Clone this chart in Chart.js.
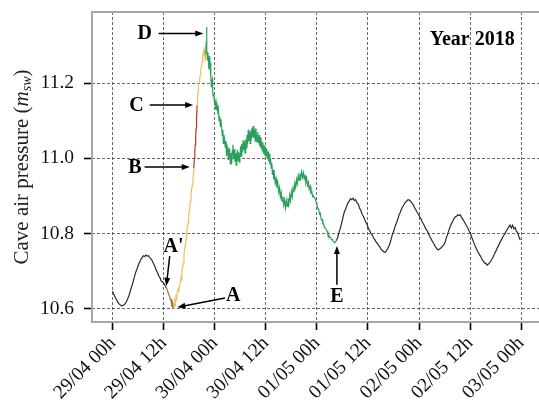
<!DOCTYPE html>
<html>
<head>
<meta charset="utf-8">
<script src="https://cdn.jsdelivr.net/npm/chart.js@4"></script>
<style>
  html, body { margin: 0; padding: 0; background: #fff; }
  canvas { display: block; }
</style>
</head>
<body>
<canvas id="myChart" width="539" height="402"></canvas>
<script>
// hours are counted from 29/04 00h, pressure in m_sw
var tickHours = [0, 12, 24, 36, 48, 60, 72, 84, 96];
var tickLabels = ['29/04 00h', '29/04 12h', '30/04 00h', '30/04 12h', '01/05 00h', '01/05 12h', '02/05 00h', '02/05 12h', '03/05 00h'];
var pressureTicks = [10.6, 10.8, 11.0, 11.2];

// black, before A'
var earlyTide = [[-0.1,10.647],[0.3,10.638],[0.6,10.630],[0.9,10.624],[1.2,10.618],[1.5,10.613],[1.8,10.610],[2.1,10.608],[2.4,10.609],[2.7,10.611],[3.0,10.615],[3.3,10.621],[3.6,10.629],[3.9,10.638],[4.2,10.650],[4.5,10.661],[4.8,10.672],[5.1,10.685],[5.4,10.697],[5.7,10.706],[6.0,10.716],[6.3,10.724],[6.6,10.731],[6.9,10.736],[7.2,10.741],[7.5,10.739],[7.8,10.743],[8.1,10.740],[8.4,10.741],[8.7,10.736],[9.0,10.733],[9.3,10.727],[9.6,10.720],[9.9,10.713],[10.2,10.703],[10.5,10.697],[10.8,10.688],[11.1,10.683],[11.4,10.674],[11.7,10.672],[12.0,10.668],[12.3,10.662],[12.6,10.656]];
// A' to A
var lagAA = [[12.6,10.656],[12.9,10.648],[13.1,10.640],[13.3,10.635],[13.5,10.628],[13.7,10.621],[13.8,10.626],[13.9,10.612],[14.0,10.617],[14.1,10.604],[14.2,10.602]];
// A to B
var riseAB = [[14.2,10.602],[14.35,10.615],[14.45,10.607],[14.6,10.622],[14.75,10.614],[14.9,10.633],[15.05,10.628],[15.2,10.645],[15.4,10.652],[15.55,10.648],[15.7,10.662],[15.85,10.672],[16.0,10.680],[16.1,10.676],[16.25,10.698],[16.4,10.712],[16.5,10.718],[16.6,10.722],[16.75,10.745],[16.9,10.760],[17.0,10.766],[17.1,10.770],[17.25,10.788],[17.4,10.805],[17.55,10.818],[17.7,10.828],[17.85,10.845],[18.0,10.862],[18.1,10.868],[18.25,10.886],[18.4,10.902],[18.55,10.918],[18.7,10.928],[18.85,10.944],[19.0,10.960],[19.06,10.974]];
// B to C
var riseBC = [[19.06,10.974],[19.2,11.000],[19.3,11.018],[19.4,11.036],[19.5,11.058],[19.6,11.080],[19.7,11.104],[19.84,11.142]];
// C to D
var riseCD = [[19.84,11.142],[19.95,11.160],[20.05,11.178],[20.15,11.195],[20.3,11.203],[20.45,11.212],[20.6,11.222],[20.7,11.238],[20.85,11.243],[21.0,11.256],[21.1,11.262],[21.2,11.270],[21.3,11.282],[21.4,11.278],[21.5,11.290],[21.6,11.284],[21.7,11.262],[21.8,11.274]];
// D to E
var fallDE = [[21.8,11.274],[21.95,11.300],[22.05,11.349],[22.15,11.290],[22.25,11.262],[22.35,11.282],[22.45,11.270],[22.6,11.236],[22.7,11.258],[22.8,11.272],[22.9,11.246],[23.0,11.254],[23.1,11.218],[23.2,11.190],[23.3,11.205],[23.4,11.210],[23.5,11.182],[23.6,11.165],[23.75,11.172],[23.9,11.150],[24.0,11.158],[24.15,11.138],[24.3,11.148],[24.4,11.128],[24.55,11.140],[24.7,11.125],[24.85,11.132],[25.0,11.100],[25.15,11.112],[25.3,11.085],[25.45,11.104],[25.6,11.080],[25.75,11.060],[25.9,11.075],[26.0,11.040],[26.15,11.062],[26.3,11.050],[26.45,11.030],[26.6,11.046],[26.75,11.006],[26.9,11.030],[27.05,11.020],[27.2,10.996],[27.35,11.026],[27.5,11.012],[27.65,10.986],[27.8,11.014],[27.95,10.984],[28.1,11.020],[28.25,11.036],[28.4,11.000],[28.55,11.024],[28.7,10.992],[28.85,11.014],[29.0,10.982],[29.15,11.008],[29.3,11.022],[29.45,10.994],[29.6,11.016],[29.75,10.990],[29.9,11.004],[30.05,11.032],[30.2,11.006],[30.35,11.038],[30.5,11.016],[30.65,11.048],[30.8,11.022],[30.95,11.044],[31.1,11.014],[31.25,11.050],[31.4,11.028],[31.55,11.062],[31.7,11.036],[31.85,11.076],[32.0,11.046],[32.15,11.070],[32.3,11.040],[32.45,11.074],[32.6,11.050],[32.75,11.082],[32.9,11.056],[33.05,11.086],[33.2,11.054],[33.35,11.076],[33.5,11.046],[33.65,11.080],[33.8,11.056],[33.95,11.044],[34.1,11.070],[34.25,11.040],[34.4,11.062],[34.55,11.032],[34.7,11.056],[34.85,11.026],[35.0,11.046],[35.15,11.020],[35.3,11.042],[35.45,11.012],[35.6,11.034],[35.75,11.008],[35.9,11.030],[36.05,11.006],[36.2,11.026],[36.35,11.000],[36.5,11.018],[36.65,10.992],[36.8,11.012],[36.95,10.984],[37.1,11.000],[37.25,10.974],[37.4,10.988],[37.55,10.956],[37.7,10.970],[37.85,10.944],[38.0,10.958],[38.2,10.934],[38.4,10.946],[38.6,10.922],[38.8,10.934],[39.0,10.910],[39.2,10.922],[39.4,10.898],[39.6,10.910],[39.8,10.886],[40.0,10.898],[40.2,10.876],[40.4,10.890],[40.6,10.868],[40.8,10.888],[41.0,10.872],[41.2,10.894],[41.4,10.878],[41.6,10.902],[41.8,10.888],[42.0,10.912],[42.2,10.898],[42.4,10.922],[42.6,10.910],[42.8,10.934],[43.0,10.922],[43.2,10.944],[43.4,10.932],[43.6,10.954],[43.8,10.942],[44.0,10.960],[44.2,10.948],[44.4,10.964],[44.6,10.950],[44.8,10.962],[45.0,10.946],[45.2,10.954],[45.4,10.936],[45.6,10.946],[45.8,10.928],[46.0,10.936],[46.2,10.918],[46.4,10.926],[46.6,10.908],[46.8,10.912],[47.0,10.898],[47.2,10.900],[47.4,10.896],[47.6,10.892],[47.8,10.884],[48.0,10.878],[48.2,10.866],[48.4,10.866],[48.6,10.852],[48.8,10.854],[49.0,10.838],[49.2,10.838],[49.4,10.826],[49.6,10.826],[49.8,10.816],[50.0,10.814],[50.2,10.810],[50.4,10.806],[50.6,10.796],[50.8,10.796],[51.0,10.790],[51.2,10.790],[51.4,10.784],[51.6,10.784],[51.8,10.780],[52.0,10.780],[52.2,10.776],[52.4,10.778],[52.6,10.782]];
// black, after E
var lateTide = [[52.6,10.782],[52.9,10.790],[53.2,10.804],[53.5,10.814],[53.8,10.828],[54.1,10.842],[54.4,10.856],[54.7,10.864],[55.0,10.873],[55.3,10.882],[55.6,10.886],[55.9,10.893],[56.2,10.890],[56.5,10.894],[56.8,10.888],[57.1,10.890],[57.4,10.882],[57.7,10.879],[58.0,10.868],[58.3,10.862],[58.6,10.852],[58.9,10.846],[59.2,10.838],[59.5,10.830],[59.8,10.824],[60.1,10.814],[60.4,10.808],[60.7,10.800],[61.0,10.796],[61.3,10.789],[61.6,10.784],[61.9,10.778],[62.2,10.774],[62.5,10.768],[62.8,10.765],[63.1,10.758],[63.4,10.755],[63.7,10.752],[64.0,10.750],[64.3,10.754],[64.6,10.759],[64.9,10.766],[65.2,10.775],[65.5,10.788],[65.8,10.800],[66.1,10.808],[66.4,10.820],[66.7,10.828],[67.0,10.838],[67.3,10.850],[67.6,10.857],[67.9,10.866],[68.2,10.872],[68.5,10.878],[68.8,10.883],[69.1,10.886],[69.4,10.890],[69.7,10.889],[70.0,10.886],[70.3,10.882],[70.6,10.877],[70.9,10.870],[71.2,10.864],[71.5,10.858],[71.8,10.852],[72.1,10.846],[72.4,10.840],[72.7,10.832],[73.0,10.826],[73.3,10.820],[73.6,10.812],[73.9,10.808],[74.2,10.800],[74.5,10.793],[74.8,10.787],[75.1,10.780],[75.4,10.775],[75.7,10.768],[76.0,10.763],[76.3,10.758],[76.6,10.757],[76.9,10.760],[77.2,10.762],[77.5,10.766],[77.8,10.770],[78.1,10.776],[78.4,10.788],[78.7,10.798],[79.0,10.808],[79.3,10.818],[79.6,10.826],[79.9,10.832],[80.2,10.840],[80.5,10.844],[80.8,10.846],[81.1,10.850],[81.4,10.848],[81.7,10.850],[82.0,10.843],[82.3,10.838],[82.6,10.832],[82.9,10.826],[83.2,10.820],[83.5,10.814],[83.8,10.806],[84.1,10.800],[84.4,10.790],[84.7,10.781],[85.0,10.772],[85.3,10.764],[85.6,10.757],[85.9,10.750],[86.2,10.744],[86.5,10.739],[86.8,10.732],[87.1,10.727],[87.4,10.722],[87.7,10.721],[88.0,10.716],[88.3,10.719],[88.6,10.722],[88.9,10.727],[89.2,10.733],[89.5,10.740],[89.8,10.748],[90.1,10.754],[90.4,10.762],[90.7,10.768],[91.0,10.776],[91.3,10.782],[91.6,10.789],[91.9,10.795],[92.2,10.800],[92.5,10.807],[92.8,10.812],[93.1,10.818],[93.4,10.823],[93.7,10.815],[94.0,10.822],[94.3,10.813],[94.6,10.816],[94.9,10.806],[95.2,10.802],[95.5,10.791],[95.8,10.783]];

// annotation letters and arrows, in data units (hour, pressure)
var marks = [
  {text: 'D', at: [7.5, 11.330], from: [10.8, 11.332], to: [21.3, 11.332]},
  {text: 'C', at: [5.6, 11.139], from: [8.7, 11.142], to: [18.9, 11.142]},
  {text: 'B', at: [5.2, 10.974], from: [7.5, 10.977], to: [18.1, 10.977]},
  {text: "A'", at: [14.3, 10.764], from: [13.4, 10.740], to: [12.6, 10.661]},
  {text: 'A', at: [28.3, 10.635], from: [26.4, 10.629], to: [15.2, 10.604]},
  {text: 'E', at: [52.7, 10.632], from: [52.7, 10.664], to: [52.7, 10.767]}
];

var serif = '"Liberation Serif", "Times New Roman", serif';

function toXY(arr) {
    return arr.map(function (p) { return {x: p[0], y: p[1]}; });
}

function line(data, color) {
    return {
        data: toXY(data),
        borderColor: color,
        borderWidth: 1.2,
        pointRadius: 0,
        tension: 0,
        fill: false
    };
}

var framePlugin = {
    id: 'frame',
    beforeDatasetsDraw: function (chart) {
        var ctx = chart.ctx, a = chart.chartArea;
        ctx.save();
        ctx.strokeStyle = '#a6a6a6';
        ctx.lineWidth = 2;
        ctx.beginPath();
        ctx.moveTo(chart.width, a.top);
        ctx.lineTo(a.left, a.top);
        ctx.lineTo(a.left, a.bottom);
        ctx.lineTo(chart.width, a.bottom);
        ctx.stroke();
        ctx.restore();
    }
};

var titlePlugin = {
    id: 'yTitle',
    afterDraw: function (chart) {
        var ctx = chart.ctx, a = chart.chartArea;
        var parts = [
            {text: 'Cave air pressure (', font: '21px ' + serif, dy: 0},
            {text: 'm', font: 'italic 21px ' + serif, dy: 0},
            {text: 'sw', font: 'italic 14px ' + serif, dy: 5},
            {text: ')', font: '21px ' + serif, dy: 0}
        ];
        ctx.save();
        var total = 0;
        parts.forEach(function (p) { ctx.font = p.font; p.w = ctx.measureText(p.text).width; total += p.w; });
        ctx.translate(22, (a.top + a.bottom) / 2);
        ctx.rotate(-Math.PI / 2);
        ctx.fillStyle = '#222';
        ctx.textBaseline = 'middle';
        var x = -total / 2;
        parts.forEach(function (p) {
            ctx.font = p.font;
            ctx.fillText(p.text, x, p.dy);
            x += p.w;
        });
        ctx.restore();
    }
};

var markPlugin = {
    id: 'marks',
    afterDatasetsDraw: function (chart) {
        var ctx = chart.ctx, xs = chart.scales.x, ys = chart.scales.y;
        ctx.save();
        ctx.fillStyle = '#000';
        ctx.strokeStyle = '#000';
        ctx.lineWidth = 1.5;
        ctx.font = 'bold 20px ' + serif;
        ctx.textAlign = 'center';
        ctx.textBaseline = 'middle';
        marks.forEach(function (m) {
            ctx.fillText(m.text, xs.getPixelForValue(m.at[0]), ys.getPixelForValue(m.at[1]));
            var x0 = xs.getPixelForValue(m.from[0]), y0 = ys.getPixelForValue(m.from[1]);
            var x1 = xs.getPixelForValue(m.to[0]), y1 = ys.getPixelForValue(m.to[1]);
            var ang = Math.atan2(y1 - y0, x1 - x0), head = 8;
            ctx.beginPath();
            ctx.moveTo(x0, y0);
            ctx.lineTo(x1 - Math.cos(ang) * head * 0.8, y1 - Math.sin(ang) * head * 0.8);
            ctx.stroke();
            ctx.beginPath();
            ctx.moveTo(x1, y1);
            ctx.lineTo(x1 - head * Math.cos(ang) + 3 * Math.sin(ang), y1 - head * Math.sin(ang) - 3 * Math.cos(ang));
            ctx.lineTo(x1 - head * Math.cos(ang) - 3 * Math.sin(ang), y1 - head * Math.sin(ang) + 3 * Math.cos(ang));
            ctx.closePath();
            ctx.fill();
        });
        ctx.fillText('Year 2018', xs.getPixelForValue(84.5), ys.getPixelForValue(11.314));
        ctx.restore();
    }
};

var ctx = document.getElementById('myChart').getContext('2d');
var chart = new Chart(ctx, {
    type: 'line',
    data: {
        datasets: [
            line(earlyTide, '#2a2a2a'),
            line(lateTide, '#2a2a2a'),
            line(lagAA, '#8f7b45'),
            line(riseAB, '#ebbf5e'),
            line(riseCD, '#ebbf5e'),
            line(riseBC, '#c0322a'),
            line(fallDE, '#2b9f5c')
        ]
    },
    options: {
        responsive: false,
        animation: false,
        events: [],
        layout: { padding: { top: 12, right: 0, left: 0, bottom: 0 } },
        plugins: { legend: { display: false }, tooltip: { enabled: false } },
        scales: {
            x: {
                type: 'linear',
                min: -4.87,
                max: 100.2,
                afterBuildTicks: function (scale) {
                    scale.ticks = tickHours.map(function (h) { return {value: h}; });
                },
                afterFit: function (scale) {
                    scale.height = 80;
                    scale.paddingLeft = 0;
                    scale.paddingRight = 0;
                },
                ticks: {
                    callback: function (value, index) { return tickLabels[index]; },
                    minRotation: 45,
                    maxRotation: 45,
                    autoSkip: false,
                    padding: 2,
                    color: '#111',
                    font: { family: serif, size: 19.5 }
                },
                grid: {
                    color: '#444',
                    lineWidth: 0.8,
                    tickColor: '#000',
                    tickWidth: 1.6,
                    tickLength: 8,
                    tickBorderDash: []
                },
                border: { display: false, dash: [3, 2] }
            },
            y: {
                min: 10.565,
                max: 11.389,
                afterBuildTicks: function (scale) {
                    scale.ticks = pressureTicks.map(function (v) { return {value: v}; });
                },
                afterFit: function (scale) {
                    scale.width = 92;
                    scale.paddingTop = 0;
                    scale.paddingBottom = 0;
                },
                ticks: {
                    callback: function (value) { return value.toFixed(1); },
                    padding: 10,
                    color: '#111',
                    font: { family: serif, size: 19.5 }
                },
                grid: {
                    color: '#444',
                    lineWidth: 0.8,
                    tickColor: '#000',
                    tickWidth: 1.6,
                    tickLength: 8,
                    tickBorderDash: []
                },
                border: { display: false, dash: [3, 2] }
            }
        }
    },
    plugins: [framePlugin, markPlugin, titlePlugin]
});
</script>
</body>
</html>
